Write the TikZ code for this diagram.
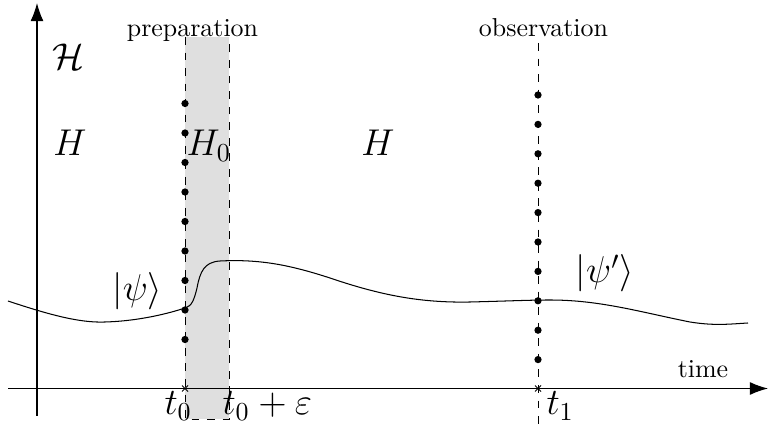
\documentclass[tikz,border=0pt]{standalone}
\usetikzlibrary{arrows.meta}
\begin{document}
\begin{tikzpicture}[x=0.386pt,y=-0.386pt,
  axis/.style={line width=0.45pt,-{Latex[length=7pt,width=5pt]}},
  dashline/.style={dashed,line width=0.35pt},
  dotmark/.style={circle,fill=black,inner sep=0pt,minimum size=2.8pt},
  lbl/.style={anchor=base,inner sep=0pt},
  biglbl/.style={anchor=base,inner sep=0pt,font=\Large}]
\useasboundingbox (0,0) rectangle (768,424);
% gray band
\fill[gray!25] (185,37) rectangle (229,419);
\draw[dashline] (185,37) -- (185,419) -- (229,419) -- (229,37);
\draw[dashline] (538,43) -- (538,424);
% axes
\coordinate (yb) at (37,416);
\coordinate (yt) at (37,3);
\coordinate (xl) at (8,388.5);
\coordinate (xr) at (768,388.5);
\draw[axis] (yb) -- (yt);
\draw[axis] (xl) -- (xr);
% crosses
\foreach \cx in {185,538}{
  \draw[line width=0.3pt] (\cx-3,385.5) -- (\cx+3,391.5) (\cx-3,391.5) -- (\cx+3,385.5);
}
% dots
\foreach \k in {0,...,8}{\node[dotmark] (dl\k) at (185,103.5+29.5*\k) {};}
\foreach \k in {0,...,9}{\node[dotmark] (dr\k) at (538,95+29.4*\k) {};}
% curve
\draw[line width=0.4pt] (8,301) .. controls (50,315) and (80,323) .. (105,322)
  .. controls (140,321) and (170,313) .. (185,308)
  .. controls (192,306) and (194,300) .. (197,288)
  .. controls (200,272) and (204,262) .. (220,261)
  .. controls (260,259) and (290,265) .. (330,278)
  .. controls (380,295) and (420,303) .. (470,302)
  .. controls (510,301) and (530,300) .. (550,300)
  .. controls (600,300) and (640,312) .. (690,322)
  .. controls (715,326) and (730,324) .. (748,323);
% labels
\node[lbl] (prep) at (192.5,36.5) {preparation};
\node[lbl] (obs) at (543.5,36.5) {observation};
\node[lbl] (time) at (703,378) {time};
\node[biglbl] (calH) at (68,70) {$\mathcal{H}$};
\node[biglbl] (H1) at (70,156) {$H$};
\node[biglbl,anchor=base west] (H0) at (186,156) {$H_0$};
\node[biglbl] (H2) at (378,156) {$H$};
\node[biglbl] (psi) at (137.5,301) {$|\psi\rangle$};
\node[biglbl] (psip) at (605,283) {$|\psi'\rangle$};
\node[biglbl,anchor=base west] (t0) at (164,415) {$t_0$};
\node[biglbl,anchor=base west] (t0e) at (222,415) {$t_0+\varepsilon$};
\node[biglbl,anchor=base west] (t1) at (546,415) {$t_1$};
\end{tikzpicture}
\end{document}
